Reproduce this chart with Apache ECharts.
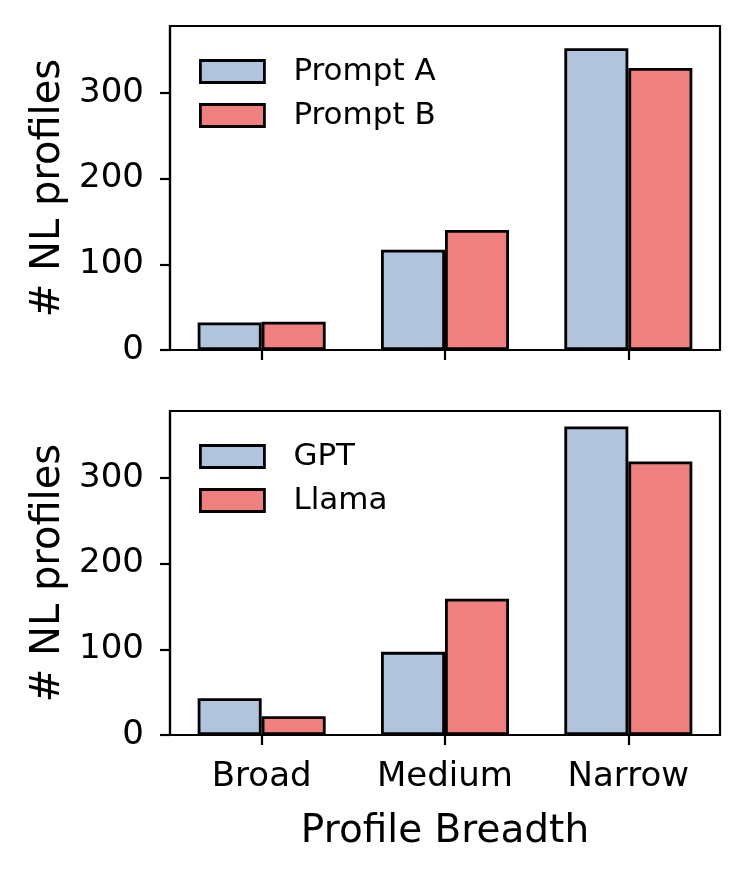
<!DOCTYPE html>
<html>
<head>
<meta charset="utf-8">
<script src="https://cdn.jsdelivr.net/npm/echarts@6/dist/echarts.min.js"></script>
<style>
html,body{margin:0;padding:0;background:#fff;}
#chart{width:746px;height:873px;}
</style>
</head>
<body>
<div id="chart"></div>
<script>
const categories = ['Broad', 'Medium', 'Narrow'];
const promptA = [32, 117, 352];
const promptB = [33, 140, 329];
const gpt = [43, 97, 360];
const llama = [22, 159, 319];
const yTicks = [0, 100, 200, 300];
const yMax = 378;

const FONT = 'DejaVu Sans';
const BLUE = '#b0c4de';
const RED = '#f08080';

const chart = echarts.init(document.getElementById('chart'), null, {renderer: 'canvas'});

function yAxis(idx) {
  return {
    type: 'value', gridIndex: idx, min: 0, max: yMax,
    name: '# NL profiles', nameLocation: 'middle', nameGap: 100,
    nameTextStyle: {fontFamily: FONT, fontSize: 40, color: '#000'},
    splitLine: {show: false},
    axisLine: {show: true, lineStyle: {color: '#000', width: 2.2}},
    axisTick: {show: true, length: 10, lineStyle: {color: '#000', width: 2.2}, customValues: yTicks},
    axisLabel: {fontFamily: FONT, fontSize: 34, color: '#000', margin: 26, customValues: yTicks}
  };
}
function xAxis(idx, showLabels) {
  const a = {
    type: 'category', gridIndex: idx, data: categories, boundaryGap: true,
    axisLine: {show: true, onZero: false, lineStyle: {color: '#000', width: 2.2}},
    axisTick: {show: true, alignWithLabel: true, length: 10, lineStyle: {color: '#000', width: 2.2}},
    axisLabel: {show: showLabels, fontFamily: FONT, fontSize: 34, color: '#000', margin: 25},
    splitLine: {show: false}
  };
  if (showLabels) {
    a.name = 'Profile Breadth';
    a.nameLocation = 'middle';
    a.nameGap = 77;
    a.nameTextStyle = {fontFamily: FONT, fontSize: 39, color: '#000'};
  }
  return a;
}
function bar(name, data, color, idx) {
  return {
    type: 'bar', name: name, data: data, xAxisIndex: idx, yAxisIndex: idx,
    barWidth: 64, barGap: '0%',
    itemStyle: {color: color, borderColor: '#000', borderWidth: 2.8},
    emphasis: {disabled: true}
  };
}
function legend(names, top) {
  return {
    data: names, left: 199, top: top, orient: 'vertical', padding: 0,
    icon: 'rect', itemWidth: 64, itemHeight: 22, itemGap: 13,
    itemStyle: {borderColor: '#000', borderWidth: 2.8},
    textStyle: {fontFamily: FONT, fontSize: 31, color: '#000', lineHeight: 22, padding: [0, 0, 0, 24]}
  };
}

chart.setOption({
  animation: false,
  backgroundColor: '#fff',
  grid: [
    {left: 170, top: 26, width: 550, height: 324, show: true, borderColor: '#000', borderWidth: 2.2, containLabel: false},
    {left: 170, top: 411, width: 550, height: 324, show: true, borderColor: '#000', borderWidth: 2.2, containLabel: false}
  ],
  legend: [legend(['Prompt A', 'Prompt B'], 56), legend(['GPT', 'Llama'], 441)],
  xAxis: [xAxis(0, false), xAxis(1, true)],
  yAxis: [yAxis(0), yAxis(1)],
  series: [
    bar('Prompt A', promptA, BLUE, 0),
    bar('Prompt B', promptB, RED, 0),
    bar('GPT', gpt, BLUE, 1),
    bar('Llama', llama, RED, 1)
  ]
});
</script>
</body>
</html>
